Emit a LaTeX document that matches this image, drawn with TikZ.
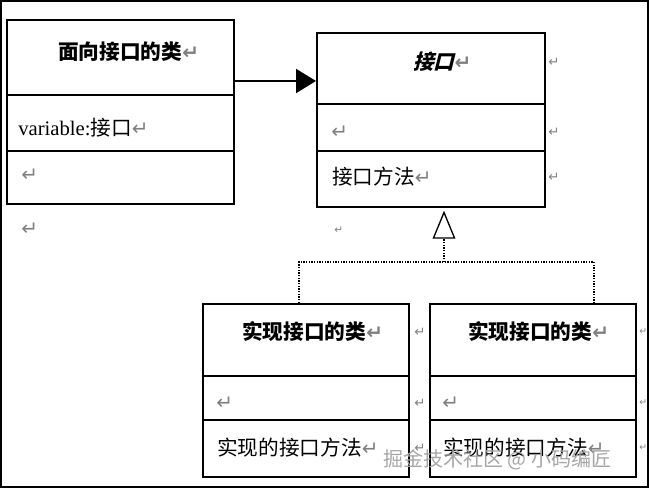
\documentclass[tikz,border=0pt]{standalone}
\usepackage{fontspec}
\setmainfont{Liberation Serif}
\newfontfamily\cjk{Noto Sans CJK SC}
\newfontfamily\cjkslant{Noto Sans CJK SC}[UprightFeatures={FakeSlant=0.25},BoldFeatures={FakeSlant=0.25}]
\newfontfamily\sym{DejaVu Sans}
\usetikzlibrary{arrows.meta,fit}
\newcommand{\pmark}{{\sym\color{gray}\fontsize{15}{15}\selectfont ↵}}
\tikzset{
  cls/.style={draw, line width=1.5pt, inner sep=0pt},
  sep/.style={line width=1.5pt},
  txt/.style={anchor=west, inner sep=0pt, font=\cjk\fontsize{15.5}{16}\selectfont},
  ttl/.style={anchor=west, inner sep=0pt, font=\cjk\bfseries\fontsize{15.5}{16}\selectfont},
  mrk/.style={anchor=west, inner sep=0pt, text=gray, font=\sym\fontsize{15}{15}\selectfont},
  edge mrk/.style={mrk, font=\sym\fontsize{10}{10}\selectfont},
}
\begin{document}
\begin{tikzpicture}[x=0.75pt,y=-0.75pt]
\useasboundingbox (0,0) rectangle (649,488);
\draw[line width=2pt] (1,1) rectangle (648,487);
% class using the interface
\node[cls, fit={(7,20) (234,204)}] (c1) {};
\draw[sep] (c1.west |- 0,95) -- (c1.east |- 0,95);
\draw[sep] (c1.west |- 0,151) -- (c1.east |- 0,151);
\node[ttl] (t1) at (58,52) {面向接口的类\pmark};
\node[txt] (a1) at (18,128) {\rmfamily variable:\cjk 接口\pmark};
\node[mrk] (m1) at (21,175) {↵};
\node[mrk] (m2) at (21,229) {↵};
% interface
\node[cls, fit={(317,33) (545,207)}] (c2) {};
\draw[sep] (c2.west |- 0,104) -- (c2.east |- 0,104);
\draw[sep] (c2.west |- 0,151) -- (c2.east |- 0,151);
\node[ttl, font=\cjkslant\bfseries\fontsize{15.5}{16}\selectfont] (t2) at (413,62) {接口\pmark};
\node[mrk] (m3) at (331,132) {↵};
\node[txt] (o2) at (332,177) {接口方法\pmark};
\node[edge mrk] (r1) at (548,62) {↵};
\node[edge mrk] (r2) at (548,132) {↵};
\node[edge mrk] (r3) at (548,177) {↵};
\node[edge mrk, font=\sym\fontsize{8}{8}\selectfont] (m4) at (334,230) {↵};
% implementing classes
\node[cls, fit={(203,304) (409,477)}] (c3) {};
\draw[sep] (c3.west |- 0,376) -- (c3.east |- 0,376);
\draw[sep] (c3.west |- 0,420) -- (c3.east |- 0,420);
\node[ttl] (t3) at (242,332) {实现接口的类\pmark};
\node[mrk] (m5) at (216,403) {↵};
\node[txt] (o3) at (217,448) {实现的接口方法\pmark};
\node[edge mrk] (r4) at (414,332) {↵};
\node[edge mrk] (r5) at (414,403) {↵};
\node[edge mrk] (r6) at (414,448) {↵};
\node[cls, fit={(430,304) (636,477)}] (c4) {};
\draw[sep] (c4.west |- 0,376) -- (c4.east |- 0,376);
\draw[sep] (c4.west |- 0,420) -- (c4.east |- 0,420);
\node[ttl] (t4) at (468,332) {实现接口的类\pmark};
\node[mrk] (m6) at (442,403) {↵};
\node[txt] (o4) at (443,448) {实现的接口方法\pmark};
\node[edge mrk, font=\sym\fontsize{7}{7}\selectfont] (r7) at (639,332) {↵};
\node[edge mrk, font=\sym\fontsize{7}{7}\selectfont] (r8) at (639,403) {↵};
\node[edge mrk, font=\sym\fontsize{7}{7}\selectfont] (r9) at (639,448) {↵};
% connectors
\draw[line width=1.5pt, -{Triangle[length=15pt,width=18pt]}] (c1.east |- 0,81) -- (c2.west |- 0,81);
\coordinate (j) at (444,262);
\draw[line width=1pt, densely dotted] (c3.north -| 299,0) |- (j) -| (c4.north -| 594,0);
\draw[line width=1pt, densely dotted, -{Triangle[open,length=21pt,width=17pt]}, shorten >=2pt] (j) -- (c2.south -| 444,0);
\node[anchor=west, inner sep=0pt, text=gray!70, font=\cjk\fontsize{15}{15}\selectfont] (wm) at (383,460) {掘金技术社区 @ 小码编匠};
\end{tikzpicture}
\end{document}
